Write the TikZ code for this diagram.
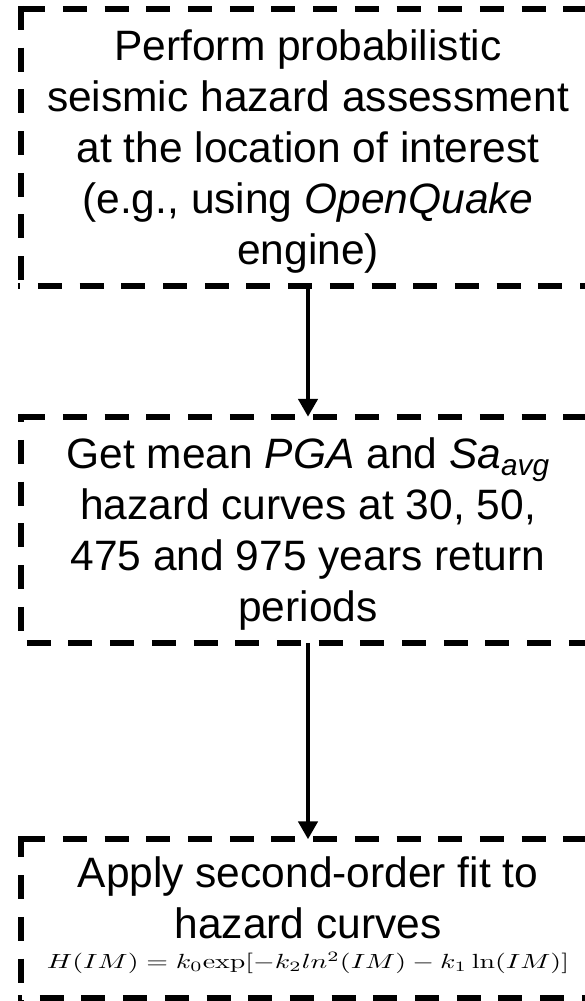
\documentclass[tikz,border=0pt]{standalone}
\usepackage[no-math]{fontspec}
\setmainfont{Liberation Sans}
\usetikzlibrary{arrows.meta}
\begin{document}
\begin{tikzpicture}[x=1pt,y=-1pt,
  boxarea/.style={rectangle, inner sep=0pt, minimum width=574pt},
  boxedge/.style={line width=5.7pt, dash pattern=on 24pt off 17.7pt},
  steptext/.style={inner sep=0pt, align=center, anchor=north,
    font=\fontsize{42.5}{51}\selectfont},
  flowarrow/.style={line width=4.5pt, -{Triangle[width=19pt,length=18pt]}}]
\useasboundingbox (0,0) rectangle (585,1001);
\clip (0,0) rectangle (585,1001);

% box outlines (right side runs past the page edge)
\node[boxarea, minimum height=276.5pt] (b1) at (308,147.25) {};
\node[boxarea, minimum height=226pt]   (b2) at (308,530) {};
\node[boxarea, minimum height=158.5pt] (b3) at (308,918.75) {};

\foreach \b/\lp/\bp in {b1/0/21.7, b2/15.7/32.9, b3/3/19.9}{
  \draw[boxedge, dash phase=38.4pt] ([xshift=-2.85pt]\b.north west) -- (\b.north east);
  \draw[boxedge, dash phase=\lp pt] ([yshift=2.85pt]\b.north west) -- ([yshift=-2.85pt]\b.south west);
  \draw[boxedge, dash phase=\bp pt] ([xshift=-2.85pt]\b.south west) -- (\b.south east);
}

% step texts
\node[steptext] (t1) at (308,24.3) {\strut Perform probabilistic\\
  seismic hazard assessment\\
  at the location of interest\\
  (e.g., using \textit{OpenQuake}\\
  engine)\strut};
\node[steptext] (t2) at (308,432.3) {\strut Get mean \textit{PGA} and \textit{Sa}\textsubscript{\textit{avg}}\\
  hazard curves at 30, 50,\\
  475 and 975 years return\\
  periods\strut};
\node[steptext] (t3) at (308,851.8) {\strut Apply second-order fit to\\
  hazard curves\\[-21pt]
  \resizebox{522pt}{14pt}{\normalsize
    $\vphantom{H}\smash{H(IM) = k_0\mathrm{exp}[-k_2 ln^2(IM) - k_1 \ln(IM)]}$}};

% connectors
\draw[flowarrow] (b1.south) -- (b2.north);
\draw[flowarrow] (b2.south) -- (b3.north);
\end{tikzpicture}
\end{document}
